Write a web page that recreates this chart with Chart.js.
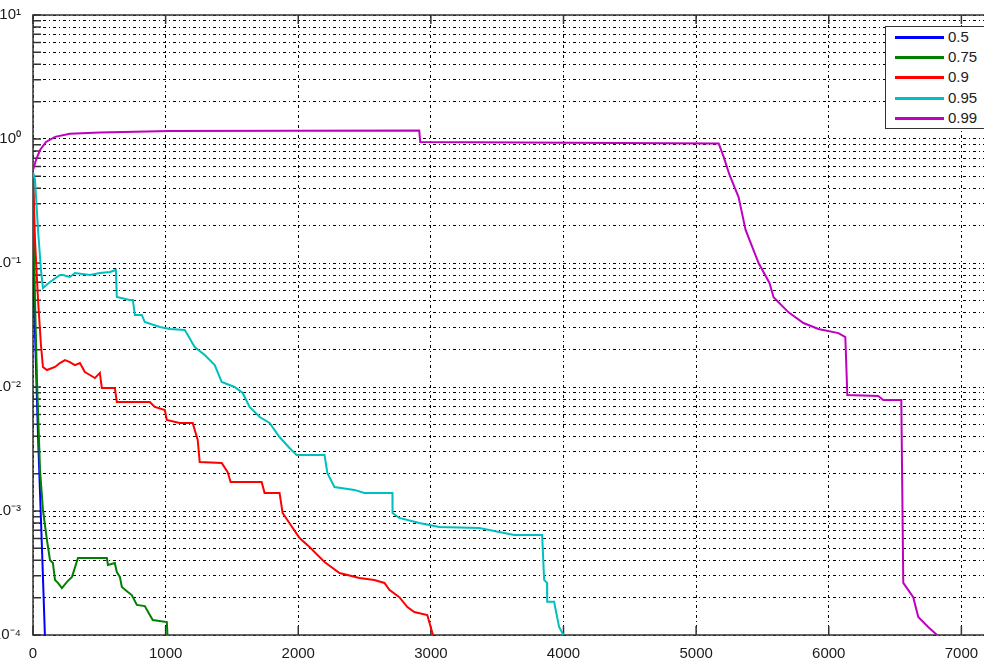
<!DOCTYPE html>
<html>
<head>
<meta charset="utf-8">
<script src="https://cdn.jsdelivr.net/npm/chart.js@4.4.1/dist/chart.umd.min.js"></script>
<style>
  html, body { margin: 0; padding: 0; background: #fff; overflow: hidden; }
  #wrap { position: absolute; left: 0; top: -6px; width: 1104px; height: 668px; }
  #legend {
    position: absolute; left: 885px; top: 26px; width: 110px; height: 101px;
    border: 1px solid #333; background: #fff;
    font-family: "Liberation Sans", Arial, sans-serif; font-size: 15px; color: #222;
  }
  .row { position: absolute; left: 0; width: 100%; height: 20px; }
  .swatch { position: absolute; left: 9px; top: 9px; width: 49px; height: 3px; }
  .lbl { position: absolute; left: 62px; top: 0; line-height: 20px; }
</style>
</head>
<body>
<div id="wrap"><canvas id="chart"></canvas></div>
<div id="legend"></div>
<script>
// series labels and colours
const seriesLabels = ['0.5', '0.75', '0.9', '0.95', '0.99'];
const seriesColors = ['#0000ff', '#008000', '#ff0000', '#00bfbf', '#bf00bf'];

// values
const x05 = [0, 8, 38, 68, 90];
const y05 = [0.54, 0.05, 0.004, 0.00049, 0.000098];

const x075 = [0, 15, 30, 53, 75, 105, 128, 150, 166, 188, 218, 256, 294, 339, 557, 565, 617, 632, 655, 670, 715, 745, 783, 843, 881, 903, 1009, 1016];
const y075 = [0.54, 0.05, 0.0114, 0.00214, 0.00102, 0.000584, 0.000403, 0.000381, 0.000278, 0.000263, 0.000239, 0.000268, 0.000294, 0.000418, 0.000418, 0.000367, 0.000381, 0.000322, 0.000294, 0.000244, 0.000222, 0.00021, 0.000175, 0.000171, 0.000145, 0.000132, 0.000127, 0.00009];

const x09 = [0, 15, 38, 60, 75, 105, 166, 203, 241, 278, 316, 354, 391, 429, 467, 504, 519, 617, 632, 881, 918, 994, 1009, 1106, 1204, 1242, 1257, 1423, 1468, 1490, 1724, 1746, 1859, 1882, 2010, 2085, 2198, 2311, 2461, 2574, 2650, 2687, 2762, 2823, 2875, 2973, 3011, 3026];
const y09 = [0.54, 0.153, 0.0503, 0.0218, 0.0145, 0.0137, 0.0145, 0.0156, 0.0165, 0.0159, 0.015, 0.0156, 0.0132, 0.0125, 0.0118, 0.013, 0.00982, 0.00982, 0.00757, 0.00757, 0.0069, 0.00653, 0.00542, 0.00513, 0.00513, 0.00374, 0.00248, 0.00244, 0.00206, 0.00171, 0.00171, 0.0014, 0.0014, 0.000964, 0.000605, 0.000513, 0.000388, 0.000316, 0.000288, 0.000278, 0.000263, 0.000231, 0.000202, 0.000168, 0.000153, 0.000145, 0.000104, 0.000091];

const x095 = [0, 15, 38, 60, 75, 128, 203, 226, 278, 316, 429, 504, 580, 625, 632, 730, 753, 768, 820, 843, 956, 1031, 1144, 1167, 1219, 1295, 1370, 1423, 1520, 1581, 1633, 1709, 1784, 1859, 1934, 1987, 2198, 2220, 2273, 2424, 2499, 2710, 2711, 2762, 2913, 3063, 3365, 3628, 3839, 3854, 3876, 3877, 3929, 3967, 4004];
const y095 = [0.54, 0.467, 0.1845, 0.0879, 0.0629, 0.0703, 0.08, 0.08, 0.0771, 0.083, 0.08, 0.083, 0.0846, 0.0879, 0.0532, 0.0503, 0.0503, 0.0381, 0.0381, 0.0334, 0.0305, 0.0294, 0.0288, 0.0263, 0.021, 0.0181, 0.015, 0.011, 0.01, 0.00895, 0.0069, 0.00573, 0.00513, 0.00395, 0.00322, 0.00283, 0.00283, 0.00202, 0.00156, 0.00148, 0.0014, 0.0014, 0.000964, 0.000879, 0.0008, 0.000743, 0.00073, 0.00064, 0.00064, 0.000278, 0.000263, 0.000185, 0.000185, 0.000116, 0.000098];

const x099 = [0, 23, 53, 98, 166, 278, 504, 1031, 2912, 2920, 5170, 5207, 5252, 5320, 5373, 5471, 5553, 5584, 5697, 5809, 5922, 6073, 6125, 6140, 6373, 6411, 6547, 6562, 6637, 6675, 6750, 6825];
const y099 = [0.56, 0.68, 0.815, 0.946, 1.04, 1.1, 1.13, 1.16, 1.17, 0.946, 0.92, 0.72, 0.513, 0.34, 0.185, 0.1, 0.069, 0.053, 0.04, 0.0328, 0.0294, 0.0272, 0.0253, 0.0086, 0.00845, 0.00785, 0.00785, 0.000263, 0.000202, 0.00014, 0.000116, 0.000098];

// axes
const xTickLabels = ['0', '1000', '2000', '3000', '4000', '5000', '6000', '7000'];
const xMax = 8000;
const yDecades = [-4, -3, -2, -1, 0, 1];

const seriesX = [x05, x075, x09, x095, x099];
const seriesY = [y05, y075, y09, y095, y099];

const supMap = { '-': '\u207b', '0': '\u2070', '1': '\u00b9', '2': '\u00b2', '3': '\u00b3', '4': '\u2074' };
function supText(n) {
  return String(n).split('').map(c => supMap[c]).join('');
}

// log grid positions 1..9 x 10^e
const yGrid = [];
yDecades.forEach(e => {
  for (let m = 1; m <= 9; m++) {
    if (e === yDecades[yDecades.length - 1] && m > 1) break;
    yGrid.push(m * Math.pow(10, e));
  }
});

const dashPattern = [3, 3, 1, 3];

const framePlugin = {
  id: 'frame',
  beforeDatasetsDraw(chart) {
    const { ctx, chartArea: a, scales } = chart;
    ctx.save();
    ctx.strokeStyle = '#333';
    ctx.lineWidth = 1.5;
    ctx.setLineDash([]);
    ctx.strokeRect(a.left, a.top, a.right - a.left, a.bottom - a.top);
    ctx.beginPath();
    scales.y.ticks.forEach(t => {
      const py = scales.y.getPixelForValue(t.value);
      ctx.moveTo(a.left, py);
      ctx.lineTo(a.left + 8, py);
      ctx.moveTo(a.right, py);
      ctx.lineTo(a.right - 8, py);
    });
    scales.x.ticks.forEach(t => {
      const px = scales.x.getPixelForValue(t.value);
      ctx.moveTo(px, a.bottom);
      ctx.lineTo(px, a.bottom - 9);
      ctx.moveTo(px, a.top);
      ctx.lineTo(px, a.top + 9);
    });
    ctx.stroke();
    ctx.restore();
  }
};

Chart.defaults.font.family = '"Liberation Sans", Arial, sans-serif';
Chart.defaults.color = '#1a1a1a';

const datasets = seriesLabels.map((label, i) => ({
  label: label,
  data: seriesX[i].map((v, j) => ({ x: v, y: seriesY[i][j] })),
  borderColor: seriesColors[i],
  backgroundColor: seriesColors[i],
  borderWidth: 2,
  pointRadius: 0,
  tension: 0,
  fill: false,
  order: seriesLabels.length - i
}));

new Chart(document.getElementById('chart'), {
  type: 'line',
  data: { datasets: datasets },
  options: {
    responsive: true,
    maintainAspectRatio: false,
    animation: false,
    layout: { padding: 0 },
    plugins: {
      legend: { display: false },
      tooltip: { enabled: false }
    },
    scales: {
      x: {
        type: 'linear',
        min: 0,
        max: xMax,
        afterFit: s => { s.height = 27; },
        ticks: {
          stepSize: 1000,
          maxRotation: 0,
          autoSkip: false,
          padding: 10,
          font: { size: 15 },
          callback: v => xTickLabels.includes(String(v)) ? String(v) : ''
        },
        grid: { color: '#000', lineWidth: 1, drawTicks: false },
        border: { display: false, dash: dashPattern }
      },
      y: {
        type: 'logarithmic',
        min: 1e-4,
        max: 10,
        afterFit: s => { s.width = 33; },
        afterBuildTicks: s => { s.ticks = yGrid.map(v => ({ value: v })); },
        ticks: {
          autoSkip: false,
          padding: 12,
          font: { size: 15 },
          callback: v => {
            const e = Math.log10(v);
            return Math.abs(e - Math.round(e)) < 1e-9 ? '10' + supText(Math.round(e)) : '';
          }
        },
        grid: { color: '#000', lineWidth: 1, drawTicks: false },
        border: { display: false, dash: dashPattern }
      }
    }
  },
  plugins: [framePlugin]
});

// legend box inside the axes
const legend = document.getElementById('legend');
seriesLabels.forEach((label, i) => {
  const row = document.createElement('div');
  row.className = 'row';
  row.style.top = (i * 20.2) + 'px';
  row.innerHTML = '<div class="swatch" style="background:' + seriesColors[i] + '"></div><span class="lbl">' + label + '</span>';
  legend.appendChild(row);
});
</script>
</body>
</html>
